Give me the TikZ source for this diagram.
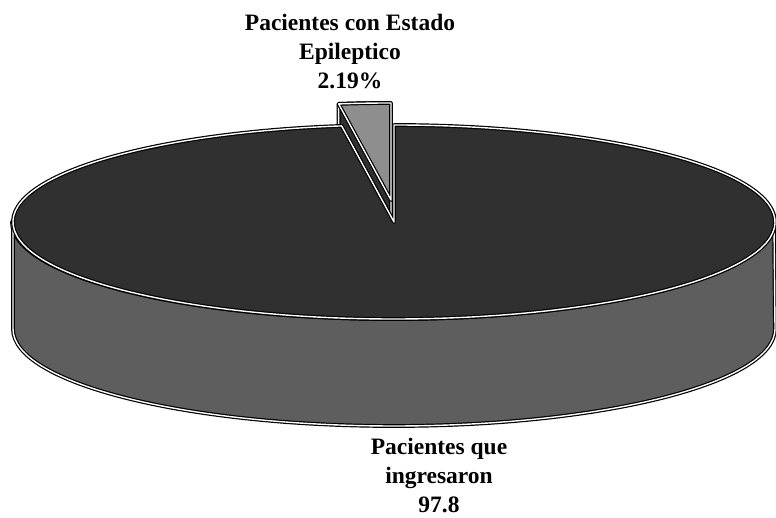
\documentclass[tikz,border=0pt]{standalone}
\usepackage{fontspec}
\setmainfont{Liberation Serif}
\usetikzlibrary{calc}
\definecolor{gristapa}{HTML}{303030}
\definecolor{grislado}{HTML}{5E5E5E}
\definecolor{grisporcion}{HTML}{8E8E8E}
\tikzstyle{etiqueta}=[align=center, inner sep=0pt, font=\fontsize{23.5}{29}\selectfont\bfseries]
\tikzstyle{borde}=[draw=black, line width=1.2pt, double=white, double distance=1.4pt, line join=round]
\newcommand{\etiqueta}{\node[etiqueta]}

\begin{document}
\begin{tikzpicture}[x=1pt,y=1pt]
	\useasboundingbox (0,0) rectangle (776,518);
	%% the exploded slice (behind the pie)
	\begin{scope}[shift={(-3,22)}]
		\coordinate (pc) at (394,296);
		\path[fill=gristapa, borde] (394,189) -- ($(pc)+(97.9:381 and 97)+(0,-107)$)
			-- ($(pc)+(97.9:381 and 97)$)
			arc[start angle=97.9, end angle=90, x radius=381, y radius=97] -- cycle;
		\path[fill=grisporcion, borde] (pc) -- ++(97.9:381 and 97)
			arc[start angle=97.9, end angle=90, x radius=381, y radius=97] -- cycle;
	\end{scope}
	%% the side of the pie
	\coordinate (c) at (394,296);
	\path[fill=grislado, borde] (13,296) -- (13,189)
		arc[start angle=180, end angle=360, x radius=381, y radius=97]
		-- (774,296)
		arc[start angle=0, end angle=-180, x radius=381, y radius=97] -- cycle;
	%% the top of the pie
	\path[fill=gristapa, borde] (c) -- ++(97.9:381 and 97)
		arc[start angle=97.9, end angle=450, x radius=381, y radius=97] -- cycle;
	%% the labels
	\etiqueta (epileptico) at (350,466) {Pacientes con Estado\\Epileptico\\2.19\%};
	\etiqueta (ingresaron) at (439,42) {Pacientes que\\ingresaron\\97.8};
\end{tikzpicture}
\end{document}
